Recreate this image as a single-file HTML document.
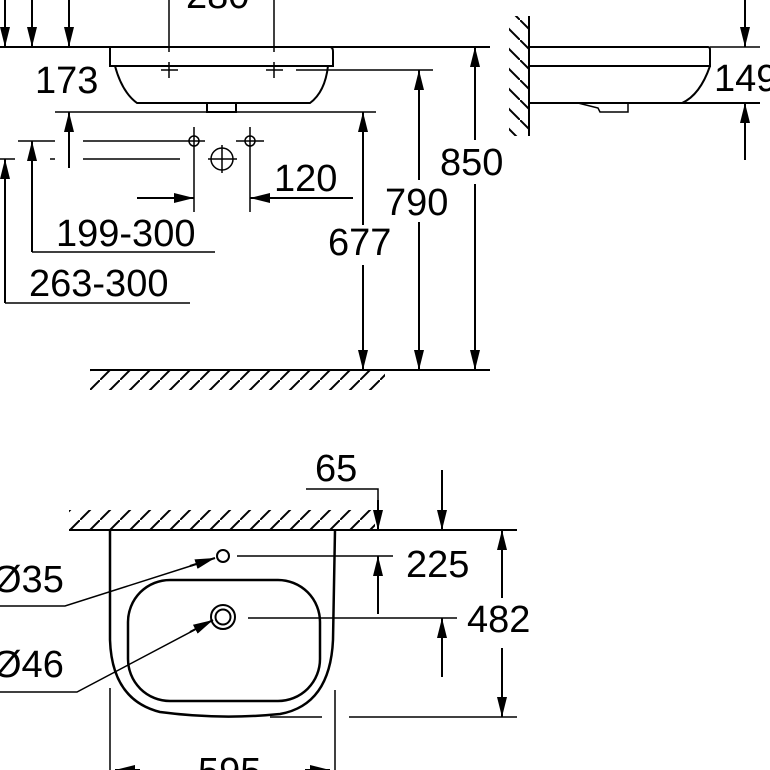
<!DOCTYPE html>
<html><head><meta charset="utf-8"><style>
html,body{margin:0;padding:0;background:#fff;}
svg{display:block;}
text{font-family:"Liberation Sans",sans-serif;font-size:38px;fill:#000;}
</style></head><body>
<svg width="770" height="770" viewBox="0 0 770 770" xmlns="http://www.w3.org/2000/svg">
<defs>
<marker id="a" viewBox="0 0 20 10" refX="20" refY="5" markerWidth="20" markerHeight="10" markerUnits="userSpaceOnUse" orient="auto"><path d="M0,0 L20,5 L0,10 z" fill="#000"/></marker>
<pattern id="h" width="20" height="20" patternUnits="userSpaceOnUse"><path d="M-2,22 L22,-2" stroke="#000" stroke-width="2"/></pattern>
<pattern id="h2" width="20" height="20" patternUnits="userSpaceOnUse"><path d="M-2,-2 L22,22" stroke="#000" stroke-width="2"/></pattern>
</defs>
<g stroke="#000" stroke-width="2" fill="none">
<line x1="0" y1="47" x2="490" y2="47"/>
<line x1="5" y1="0" x2="5" y2="47" marker-end="url(#a)"/>
<line x1="32" y1="0" x2="32" y2="47" marker-end="url(#a)"/>
<line x1="69" y1="0" x2="69" y2="47" marker-end="url(#a)"/>
<line x1="169" y1="0" x2="169" y2="52" stroke-width="1.5"/>
<line x1="274" y1="0" x2="274" y2="52" stroke-width="1.5"/>
<path d="M110,47 L330,47 Q333,47 333,52 L333,66 L110,66 Z"/>
<path d="M115,66 Q122,92 137,103 L310,103 Q325,92 328,66"/>
<path d="M207,103 L207,112 L236,112 L236,103"/>
<g stroke-width="1.5"><line x1="161" y1="70" x2="178" y2="70"/><line x1="169" y1="62" x2="169" y2="78"/><line x1="266" y1="70" x2="283" y2="70"/><line x1="274" y1="62" x2="274" y2="78"/></g>
<line x1="296" y1="70" x2="433" y2="70" stroke-width="1.5"/>
<line x1="55" y1="112" x2="376" y2="112" stroke-width="1.5"/>
<line x1="69" y1="168" x2="69" y2="112" marker-end="url(#a)"/>
<g stroke-width="1.5">
<line x1="18" y1="141" x2="55" y2="141"/><line x1="83" y1="141" x2="205" y2="141"/>
<line x1="236" y1="141" x2="264" y2="141"/>
<circle cx="194" cy="141" r="5"/><circle cx="250" cy="141" r="5"/>
<circle cx="222" cy="159" r="11"/><line x1="208" y1="159" x2="237" y2="159"/><line x1="222" y1="145" x2="222" y2="173"/>
<line x1="0" y1="159" x2="15" y2="159"/><line x1="50" y1="159" x2="55" y2="159"/><line x1="83" y1="159" x2="180" y2="159"/>
<line x1="194" y1="127" x2="194" y2="212"/><line x1="250" y1="127" x2="250" y2="212"/>
</g>
<line x1="137" y1="198" x2="194" y2="198" marker-end="url(#a)"/>
<line x1="353" y1="198" x2="250" y2="198" marker-end="url(#a)"/>
<line x1="32" y1="252" x2="32" y2="141" marker-end="url(#a)"/>
<line x1="32" y1="252" x2="215" y2="252" stroke-width="1.5"/>
<line x1="5" y1="303" x2="5" y2="159" marker-end="url(#a)"/>
<line x1="5" y1="303" x2="190" y2="303" stroke-width="1.5"/>
<line x1="363" y1="225" x2="363" y2="112" marker-end="url(#a)"/>
<line x1="363" y1="265" x2="363" y2="370" marker-end="url(#a)"/>
<line x1="419" y1="180" x2="419" y2="70" marker-end="url(#a)"/>
<line x1="419" y1="222" x2="419" y2="370" marker-end="url(#a)"/>
<line x1="475" y1="140" x2="475" y2="47" marker-end="url(#a)"/>
<line x1="475" y1="184" x2="475" y2="370" marker-end="url(#a)"/>
<line x1="90" y1="370" x2="490" y2="370"/>
</g>
<rect x="90" y="371" width="295" height="19" fill="url(#h)"/>
<rect x="509" y="16" width="19" height="120" fill="url(#h2)"/>
<g stroke="#000" stroke-width="2" fill="none">
<line x1="529" y1="16" x2="529" y2="136"/>
<path d="M529,47 L708,47 Q710,47 710,50 L710,66 L529,66"/>
<path d="M710,66 Q700,95 682,103"/>
<line x1="529" y1="103" x2="760" y2="103"/>
<line x1="710" y1="47" x2="760" y2="47" stroke-width="1.5"/>
<path d="M578,103 L598,108 L600,112 L628,112 L628,103" stroke-width="1.5"/>
<line x1="745" y1="0" x2="745" y2="47" marker-end="url(#a)"/>
<line x1="745" y1="160" x2="745" y2="103" marker-end="url(#a)"/>
</g>
<rect x="69" y="510" width="306" height="19" fill="url(#h)"/>
<g stroke="#000" stroke-width="2" fill="none">
<line x1="69" y1="530" x2="517" y2="530"/>
<path d="M306,489 L378,489 L378,530" stroke-width="1.5"/>
<line x1="378" y1="500" x2="378" y2="530" marker-end="url(#a)"/>
<line x1="442" y1="470" x2="442" y2="530" marker-end="url(#a)"/>
<path d="M110,530 L110,640 Q112,700 160,712 Q220,720 280,714 Q330,705 333,640 L335,530" stroke-width="2.5"/>
<rect x="128" y="580" width="192" height="121" rx="42" ry="42" stroke-width="2.5"/>
<circle cx="223" cy="556" r="6"/>
<circle cx="223" cy="617" r="12"/><circle cx="223" cy="617" r="7.5"/>
<line x1="237" y1="556" x2="393" y2="556" stroke-width="1.5"/>
<line x1="378" y1="614" x2="378" y2="556" marker-end="url(#a)"/>
<line x1="248" y1="618" x2="457" y2="618" stroke-width="1.5"/>
<line x1="442" y1="677" x2="442" y2="618" marker-end="url(#a)"/>
<line x1="502" y1="598" x2="502" y2="530" marker-end="url(#a)"/>
<line x1="502" y1="648" x2="502" y2="717" marker-end="url(#a)"/>
<line x1="349" y1="717" x2="517" y2="717" stroke-width="1.5"/>
<line x1="270" y1="717" x2="322" y2="717" stroke-width="1.5"/>
<line x1="110" y1="688" x2="110" y2="770" stroke-width="1.5"/>
<line x1="335" y1="690" x2="335" y2="770" stroke-width="1.5"/>
<path d="M0,606 L65,606 L200,563" stroke-width="1.5"/>
<line x1="190" y1="566" x2="215" y2="558" marker-end="url(#a)"/>
<path d="M0,692 L77,692 L200,627" stroke-width="1.5"/>
<line x1="190" y1="632" x2="213" y2="620" marker-end="url(#a)"/>
<line x1="140" y1="770" x2="115" y2="770" marker-end="url(#a)"/>
<line x1="305" y1="770" x2="330" y2="770" marker-end="url(#a)"/>
</g>
<text x="186" y="8">280</text>
<text x="35" y="93">173</text>
<text x="274" y="191">120</text>
<text x="56" y="246">199-300</text>
<text x="29" y="296">263-300</text>
<text x="328" y="255">677</text>
<text x="385" y="215">790</text>
<text x="440" y="175">850</text>
<text x="714" y="91">149</text>
<text x="315" y="481">65</text>
<text x="406" y="577">225</text>
<text x="467" y="632">482</text>
<text x="-8" y="592">Ø35</text>
<text x="-8" y="677">Ø46</text>
<text x="198" y="784">595</text>
</svg>
</body></html>
